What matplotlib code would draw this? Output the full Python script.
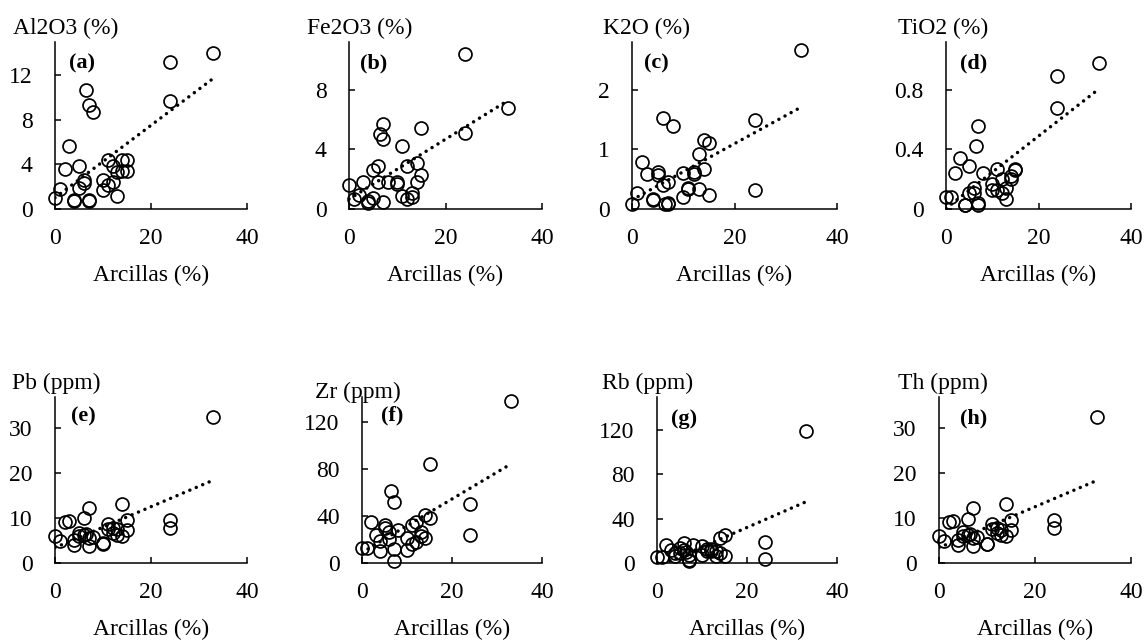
import numpy as np
import matplotlib
matplotlib.use('Agg')
import matplotlib.pyplot as plt

plt.rcParams['font.family'] = ['Liberation Serif', 'DejaVu Serif']

# clay content of each sample (shared x for all panels)
arcillas = [0, 1, 2, 3, 4, 4, 5, 5, 6, 6, 6.5, 7, 7, 7, 8, 10, 10, 11, 11, 12,
            12, 13, 13, 14, 14, 15, 15, 24, 24, 33]

al2o3 = [1.0, 1.8, 3.6, 5.7, 0.75, 0.8, 3.9, 1.9, 2.3, 2.6, 10.7, 9.3, 0.75, 0.8, 8.7,
         2.6, 1.7, 4.4, 2.2, 3.9, 2.4, 1.2, 3.3, 4.4, 3.4, 4.4, 3.4, 13.2, 9.7, 14.0]
fe2o3 = [1.6, 0.65, 0.95, 1.8, 0.4, 0.55, 0.75, 2.6, 2.9, 1.8, 5.0, 5.7, 4.7, 0.5, 1.8,
         1.8, 1.7, 4.2, 0.9, 2.9, 0.7, 0.8, 1.05, 3.1, 1.8, 2.3, 5.4, 5.1, 10.4, 6.8]
k2o = [0.08, 0.27, 0.78, 0.59, 0.17, 0.15, 0.62, 0.57, 0.4, 1.52, 0.08, 0.08, 0.46, 0.1, 1.4,
       0.2, 0.61, 0.33, 0.35, 0.62, 0.59, 0.33, 0.92, 1.15, 0.67, 1.1, 0.23, 1.5, 0.32, 2.66]
tio2 = [0.08, 0.08, 0.24, 0.34, 0.03, 0.03, 0.11, 0.29, 0.14, 0.11, 0.42, 0.56, 0.03, 0.04, 0.24,
        0.17, 0.13, 0.27, 0.13, 0.11, 0.2, 0.07, 0.14, 0.2, 0.22, 0.27, 0.26, 0.68, 0.89, 0.98]
pb = [6.0, 4.9, 9.2, 9.3, 4.1, 5.2, 6.6, 6.0, 10.1, 6.3, 6.5, 12.3, 3.9, 5.5, 5.8,
      4.5, 4.3, 8.6, 7.5, 7.8, 6.6, 6.3, 7.5, 13.2, 6.0, 9.5, 7.3, 9.6, 7.8, 32.6]
zr = [13, 13, 35, 24, 10, 19, 32, 30, 26, 20, 61, 52, 12, 2, 28,
      11, 21, 32, 16, 35, 18, 26, 23, 41, 21, 38, 84, 50, 24, 138]
rb = [5.4, 5, 16, 12, 9, 6, 13.5, 9, 18, 12, 10, 3, 1.5, 7.5, 16.5,
      15, 7.5, 12.6, 11, 10.5, 12.6, 6.6, 10.5, 23, 9, 25.5, 6.6, 18.6, 3.6, 119.5]
th = [6.0, 4.9, 9.2, 9.3, 4.1, 5.2, 6.9, 6.0, 9.9, 6.3, 6.5, 12.2, 3.9, 5.5, 5.8,
      4.3, 4.3, 8.7, 7.5, 7.8, 6.6, 6.3, 7.3, 13.2, 6.0, 9.5, 7.3, 9.6, 7.8, 32.6]

series = [al2o3, fe2o3, k2o, tio2, pb, zr, rb, th]
ylabels = ['Al2O3 (%)', 'Fe2O3 (%)', 'K2O (%)', 'TiO2 (%)',
           'Pb (ppm)', 'Zr (ppm)', 'Rb (ppm)', 'Th (ppm)']
panel_tags = ['(a)', '(b)', '(c)', '(d)', '(e)', '(f)', '(g)', '(h)']
yticks = [[0, 4, 8, 12], [0, 4, 8], [0, 1, 2], [0, 0.4, 0.8],
          [0, 10, 20, 30], [0, 40, 80, 120], [0, 40, 80, 120], [0, 10, 20, 30]]
ytops = [15, 11.2, 2.8, 1.12, 37, 141, 150, 37]
xticks = [0, 20, 40]

# layout in pixels: (axis left, axis width), label positions
W, H = 1145, 640
row_px = [(209, 42), (563, 397)]
col_px = [(55, 192), (349, 193), (632, 205), (946, 185),
          (55, 192), (362, 180), (657, 180), (939, 192)]
ylab_px = [(13, 28), (307, 28), (603, 28), (898, 28),
           (12, 383), (315, 392), (602, 383), (898, 383)]
tag_pos = [(0.14, 0.87), (0.13, 0.87), (0.12, 0.87), (0.15, 0.87),
           (0.15, 0.88), (0.17, 0.89), (0.15, 0.87), (0.18, 0.87)]

fig = plt.figure(figsize=(W / 100, H / 100), dpi=100)

for i, y in enumerate(series):
    bot, top = row_px[i // 4]
    left, width = col_px[i]
    ax = fig.add_axes([left / W, 1 - bot / H, width / W, (bot - top) / H])

    x = np.array(arcillas, dtype=float)
    y = np.array(y, dtype=float)
    ax.plot(x, y, 'o', ms=9.3, mfc='none', mec='black', mew=1.25, clip_on=False, zorder=3)

    # linear trend line
    k, b = np.polyfit(x, y, 1)
    xt = np.array([x.min(), x.max()])
    ax.plot(xt, k * xt + b, color='black', lw=2.5,
            linestyle=(0, (0.01, 2.0)), dash_capstyle='round', zorder=2)

    ax.set_xlim(0, 40)
    ax.set_ylim(0, ytops[i])
    ax.set_xticks(xticks)
    ax.set_yticks(yticks[i])
    if i == 3:
        ax.set_yticklabels(['0', '0.4', '0.8'])
    for s in ['top', 'right']:
        ax.spines[s].set_visible(False)
    for s in ['left', 'bottom']:
        ax.spines[s].set_linewidth(1.1)
    ax.tick_params(axis='x', direction='in', length=4, width=1.1, pad=14, labelsize=17)
    ax.tick_params(axis='y', direction='in', length=4, width=1.1, pad=16, labelsize=17)
    ax.set_xlabel('Arcillas (%)', fontsize=17, labelpad=11)

    ax.text(tag_pos[i][0], tag_pos[i][1], panel_tags[i], transform=ax.transAxes,
            ha='center', va='center', fontsize=16, fontweight='bold')
    lx, ly = ylab_px[i]
    fig.text(lx / W, 1 - ly / H, ylabels[i], ha='left', va='center', fontsize=17)

fig.savefig('out.png', dpi=100)
